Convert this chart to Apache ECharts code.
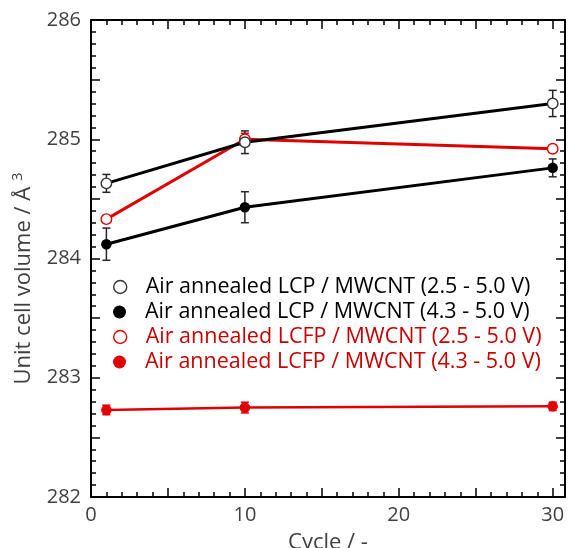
<!DOCTYPE html>
<html>
<head>
<meta charset="utf-8">
<script src="https://cdn.jsdelivr.net/npm/echarts@6/dist/echarts.min.js"></script>
<style>
html,body{margin:0;padding:0;background:#fff;}
#chart{width:568px;height:548px;}
</style>
</head>
<body>
<div id="chart"></div>
<script>
// ---- data ----
const cycles = [1, 10, 30];
const seriesNames = [
  'Air annealed LCP / MWCNT (2.5 - 5.0 V)',
  'Air annealed LCP / MWCNT (4.3 - 5.0 V)',
  'Air annealed LCFP / MWCNT (2.5 - 5.0 V)',
  'Air annealed LCFP / MWCNT (4.3 - 5.0 V)'
];
const lcpWide = [284.63, 284.975, 285.30];
const lcpWideErr = [0.075, 0.095, 0.11];
const lcpHigh = [284.12, 284.43, 284.76];
const lcpHighErr = [0.135, 0.13, 0.075];
const lcfpWide = [284.33, 285.00, 284.92];
const lcfpWideErr = [0.03, 0.05, 0.03];
const lcfpHigh = [282.73, 282.75, 282.76];
const lcfpHighErr = [0.04, 0.045, 0.035];
const xTickLabels = ['0', '10', '20', '30'];
const yTickLabels = ['282', '283', '284', '285', '286'];

const BLACK = '#000000';
const ERR_DARK = '#262626';
const RED = '#e00000';
const RED_TEXT = '#c80000';
const LABEL = '#404040';
const FONT = '"Open Sans", sans-serif';

function pairs(ys) { return cycles.map((c, i) => [c, ys[i]]); }
function errData(ys, es) { return cycles.map((c, i) => [c, ys[i] - es[i], ys[i] + es[i]]); }

function errSeries(ys, es, color) {
  return {
    type: 'custom', xAxisIndex: 0, yAxisIndex: 0, silent: true, z: 2,
    data: errData(ys, es),
    renderItem: function (params, api) {
      const lo = api.coord([api.value(0), api.value(1)]);
      const hi = api.coord([api.value(0), api.value(2)]);
      const w = 4;
      const st = { stroke: color, lineWidth: 1.5 };
      return { type: 'group', children: [
        { type: 'line', shape: { x1: lo[0], y1: lo[1], x2: hi[0], y2: hi[1] }, style: st },
        { type: 'line', shape: { x1: lo[0] - w, y1: lo[1], x2: lo[0] + w, y2: lo[1] }, style: st },
        { type: 'line', shape: { x1: hi[0] - w, y1: hi[1], x2: hi[0] + w, y2: hi[1] }, style: st }
      ]};
    }
  };
}

function markerStyle(color, open) {
  return open ? { color: '#ffffff', borderColor: color === BLACK ? '#333333' : color, borderWidth: 1.4 }
              : { color: color, borderColor: color, borderWidth: 0 };
}

function lineSeries(name, ys, color, open, width) {
  return {
    type: 'line', name: name, xAxisIndex: 0, yAxisIndex: 0, z: 3,
    data: pairs(ys),
    symbol: 'circle', symbolSize: 10.5,
    lineStyle: { color: color, width: width },
    itemStyle: markerStyle(color, open),
    emphasis: { disabled: true },
    animation: false
  };
}

const X_MIN = 0, X_MAX = 30.8, Y_MIN = 282, Y_MAX = 286;

function xAx(pos, interval, len, opts) {
  return Object.assign({
    type: 'value', position: pos, min: X_MIN, max: X_MAX, interval: interval,
    axisLine: { show: false, onZero: false }, splitLine: { show: false },
    axisTick: { show: true, inside: true, length: len, lineStyle: { color: BLACK, width: 1.5 } },
    axisLabel: { show: false }
  }, opts || {});
}
function yAx(pos, interval, len, opts) {
  return Object.assign({
    type: 'value', position: pos, min: Y_MIN, max: Y_MAX, interval: interval,
    axisLine: { show: false, onZero: false }, splitLine: { show: false },
    axisTick: { show: true, inside: true, length: len, lineStyle: { color: BLACK, width: 1.5 } },
    axisLabel: { show: false }
  }, opts || {});
}

const option = {
  animation: false,
  backgroundColor: '#ffffff',
  grid: { left: 91, right: 3, top: 20, bottom: 51, containLabel: false, outerBoundsMode: 'none' },
  xAxis: [
    xAx('bottom', 10, 9, {
      axisLine: { show: true, onZero: false, lineStyle: { color: BLACK, width: 2 } },
      axisLabel: { show: true, color: LABEL, fontSize: 20, fontFamily: FONT, margin: 8,
        showMaxLabel: false,
        formatter: function (v) { const i = Math.round(v / 10); return (Math.abs(v - i * 10) < 1e-6 && xTickLabels[i] !== undefined) ? xTickLabels[i] : ''; } },
      name: 'Cycle / -', nameLocation: 'middle', nameGap: 35,
      nameTextStyle: { color: LABEL, fontSize: 22, fontFamily: FONT }
    }),
    xAx('bottom', 5, 9),
    xAx('bottom', 1, 5),
    xAx('top', 10, 9, { axisLine: { show: true, onZero: false, lineStyle: { color: BLACK, width: 2 } } }),
    xAx('top', 5, 9),
    xAx('top', 1, 5)
  ],
  yAxis: [
    yAx('left', 1, 9, {
      axisLine: { show: true, onZero: false, lineStyle: { color: BLACK, width: 2 } },
      axisLabel: { show: true, color: LABEL, fontSize: 20, fontFamily: FONT, margin: 10,
        formatter: function (v) { const i = Math.round(v - Y_MIN); return yTickLabels[i] !== undefined ? yTickLabels[i] : ''; } },
      name: 'Unit cell volume / Å {sup|3}', nameLocation: 'middle', nameGap: 54, nameRotate: 90,
      nameTextStyle: { color: LABEL, fontSize: 22, fontFamily: FONT, padding: [0, 40, 0, 0],
        rich: { sup: { fontSize: 15, fontFamily: FONT, color: LABEL, verticalAlign: 'top', padding: [0, 0, 12, 0] } } }
    }),
    yAx('left', 0.5, 9),
    yAx('left', 0.1, 5),
    yAx('right', 1, 9, { axisLine: { show: true, onZero: false, lineStyle: { color: BLACK, width: 2 } } }),
    yAx('right', 0.5, 9),
    yAx('right', 0.1, 5)
  ],
  legend: [0, 1, 2, 3].map(function (k) {
    const open = (k % 2 === 0);
    const color = k < 2 ? BLACK : RED;
    return {
      data: [{ name: seriesNames[k], icon: 'circle', itemStyle: markerStyle(color, open) }],
      orient: 'vertical', left: 113, top: 276 + 25 * k, padding: 0,
      itemWidth: 13, itemHeight: 13, selectedMode: false,
      textStyle: { color: k < 2 ? BLACK : RED_TEXT, fontSize: 21.5, fontFamily: FONT, lineHeight: 22,
        padding: [0, 0, 0, 14] }
    };
  }),
  series: [
    errSeries(lcfpHigh, lcfpHighErr, RED),
    errSeries(lcfpWide, lcfpWideErr, RED),
    errSeries(lcpHigh, lcpHighErr, ERR_DARK),
    errSeries(lcpWide, lcpWideErr, ERR_DARK),
    lineSeries(seriesNames[3], lcfpHigh, RED, false, 2.5),
    lineSeries(seriesNames[2], lcfpWide, RED, true, 3),
    lineSeries(seriesNames[1], lcpHigh, BLACK, false, 3),
    lineSeries(seriesNames[0], lcpWide, BLACK, true, 3)
  ]
};

const chart = echarts.init(document.getElementById('chart'), null, { renderer: 'canvas' });
chart.setOption(option);
</script>
</body>
</html>
